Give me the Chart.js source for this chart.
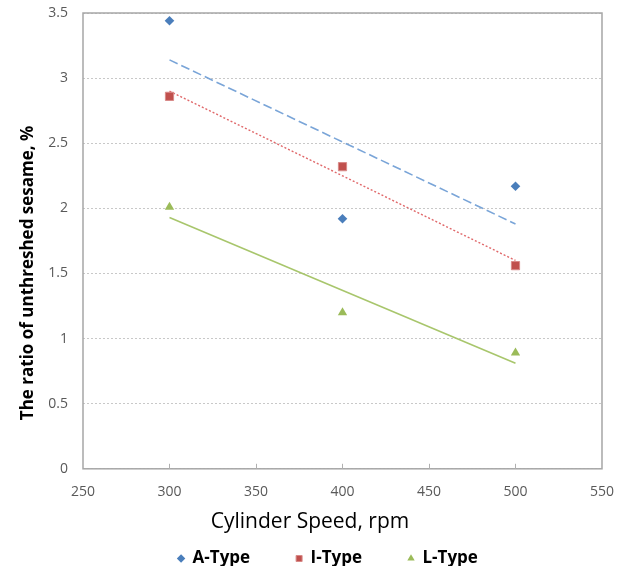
<!DOCTYPE html>
<html>
<head>
<meta charset="utf-8">
<script src="https://cdn.jsdelivr.net/npm/chart.js@4"></script>
<style>
  html, body { margin: 0; padding: 0; background: #fff; }
  #wrap { width: 629px; height: 568px; }
</style>
</head>
<body>
<div id="wrap"><canvas id="chart" width="629" height="568"></canvas></div>
<script>
// values
const speeds = [300, 400, 500];
const aType = [3.44, 1.92, 2.17];
const iType = [2.86, 2.32, 1.56];
const lType = [2.01, 1.20, 0.89];

// trend line end points (at 300 and 500 rpm)
const trendX = [300, 500];
const aTrend = [3.14, 1.88];
const iTrend = [2.90, 1.60];
const lTrend = [1.93, 0.81];

const xTicks = [250, 300, 350, 400, 450, 500, 550];
const yTicks = [0, 0.5, 1, 1.5, 2, 2.5, 3, 3.5];

const FONT = '"Open Sans", "DejaVu Sans", sans-serif';
const LEGEND_GAP = 46;      // horizontal gap between legend items
const LEGEND_HEIGHT = 27;   // vertical room the legend really needs

const toPoints = (xs, ys) => xs.map((x, i) => ({ x: x, y: ys[i] }));

const framePlugin = {
    id: 'frame',
    // legend padding is used both ways in Chart.js; keep the wide horizontal gap
    // but do not let it eat vertical space
    beforeLayout(chart) {
        const legend = chart.legend;
        if (legend && !legend._squeezed) {
            const fit = legend.fit;
            legend.fit = function () {
                fit.call(this);
                this.height = LEGEND_HEIGHT;
            };
            legend._squeezed = true;
        }
    },
    afterLayout(chart) {
        const legend = chart.legend;
        legend.top -= LEGEND_GAP - 11;
        // Excel puts the legend a bit right of centre
        legend.left += 18;
        legend.right += 18;

        // y title sits lower than the middle of the axis in the original
        const yScale = chart.scales.y;
        if (!yScale._titleShifted) {
            const drawTitle = yScale.drawTitle;
            yScale.drawTitle = function () {
                const top = this.top;
                this.top += 64;
                drawTitle.call(this);
                this.top = top;
            };
            yScale._titleShifted = true;
        }
    },
    afterDraw(chart) {
        const { ctx, chartArea } = chart;
        const xScale = chart.scales.x;
        ctx.save();
        ctx.strokeStyle = '#a6a6a6';
        ctx.lineWidth = 1.5;
        ctx.strokeRect(chartArea.left, chartArea.top, chartArea.right - chartArea.left, chartArea.bottom - chartArea.top);
        ctx.lineWidth = 1;
        ctx.strokeStyle = '#b0b0b0';
        xTicks.slice(1, -1).forEach(v => {
            const px = Math.round(xScale.getPixelForValue(v)) + 0.5;
            ctx.beginPath();
            ctx.moveTo(px, chartArea.bottom);
            ctx.lineTo(px, chartArea.bottom - 5);
            ctx.stroke();
        });
        ctx.restore();
    }
};

const ctx = document.getElementById('chart').getContext('2d');
new Chart(ctx, {
    type: 'scatter',
    data: {
        datasets: [
            {
                label: 'A-Type',
                data: toPoints(speeds, aType),
                pointStyle: 'rectRot',
                pointRadius: 4.8,
                pointHoverRadius: 4.8,
                backgroundColor: '#4a7ebb',
                borderColor: '#4a7ebb',
                borderWidth: 0
            },
            {
                label: 'I-Type',
                data: toPoints(speeds, iType),
                pointStyle: 'rect',
                pointRadius: 5.8,
                pointHoverRadius: 5.8,
                backgroundColor: '#c0504d',
                borderColor: '#d88a88',
                borderWidth: 1
            },
            {
                label: 'L-Type',
                data: toPoints(speeds, lType),
                pointStyle: 'triangle',
                pointRadius: 5.4,
                pointHoverRadius: 5.4,
                backgroundColor: '#9bbb59',
                borderColor: '#9bbb59',
                borderWidth: 0
            },
            {
                label: 'trendA',
                type: 'line',
                data: toPoints(trendX, aTrend),
                borderColor: '#7aa5d8',
                borderWidth: 1.6,
                borderDash: [9, 4],
                pointRadius: 0,
                fill: false
            },
            {
                label: 'trendI',
                type: 'line',
                data: toPoints(trendX, iTrend),
                borderColor: '#e0686a',
                borderWidth: 1.4,
                borderDash: [2, 2],
                pointRadius: 0,
                fill: false
            },
            {
                label: 'trendL',
                type: 'line',
                data: toPoints(trendX, lTrend),
                borderColor: '#a8c66c',
                borderWidth: 1.6,
                pointRadius: 0,
                fill: false
            }
        ]
    },
    options: {
        responsive: false,
        animation: false,
        layout: {
            padding: { left: 6, right: 15, top: 4, bottom: 2 }
        },
        scales: {
            x: {
                type: 'linear',
                min: 250,
                max: 550,
                afterBuildTicks: scale => {
                    scale.ticks = xTicks.map(v => ({ value: v }));
                },
                afterFit: scale => {
                    scale.height = 32;
                },
                grid: { display: false, drawTicks: false },
                border: { display: false },
                ticks: {
                    padding: 15,
                    color: '#595959',
                    font: { family: FONT, size: 14 }
                }
            },
            y: {
                type: 'linear',
                min: 0,
                max: 3.5,
                afterBuildTicks: scale => {
                    scale.ticks = yTicks.map(v => ({ value: v }));
                },
                afterFit: scale => {
                    scale.width = 77;
                    scale.paddingTop = 13;
                    scale.paddingBottom = 9;
                },
                grid: {
                    drawTicks: false,
                    color: '#c8c8c8',
                    lineWidth: 1
                },
                border: { display: false, dash: [2, 2] },
                ticks: {
                    padding: 15,
                    color: '#595959',
                    font: { family: FONT, size: 14 },
                    callback: value => String(value)
                },
                title: {
                    display: true,
                    text: 'The ratio of unthreshed sesame, %',
                    color: '#000',
                    padding: { top: 12, bottom: 0 },
                    font: { family: FONT, size: 17, weight: 'bold' }
                }
            }
        },
        plugins: {
            title: {
                display: true,
                position: 'bottom',
                weight: 500,
                text: 'Cylinder Speed, rpm',
                color: '#000',
                padding: { top: 9, bottom: 4 },
                font: { family: FONT, size: 21, weight: 'normal' }
            },
            legend: {
                position: 'bottom',
                labels: {
                    usePointStyle: true,
                    boxWidth: 6,
                    boxHeight: 6,
                    padding: LEGEND_GAP,
                    color: '#000',
                    font: { family: FONT, size: 17, weight: 'bold' },
                    filter: item => !item.text.startsWith('trend')
                }
            },
            tooltip: { enabled: false }
        }
    },
    plugins: [framePlugin]
});
</script>
</body>
</html>
